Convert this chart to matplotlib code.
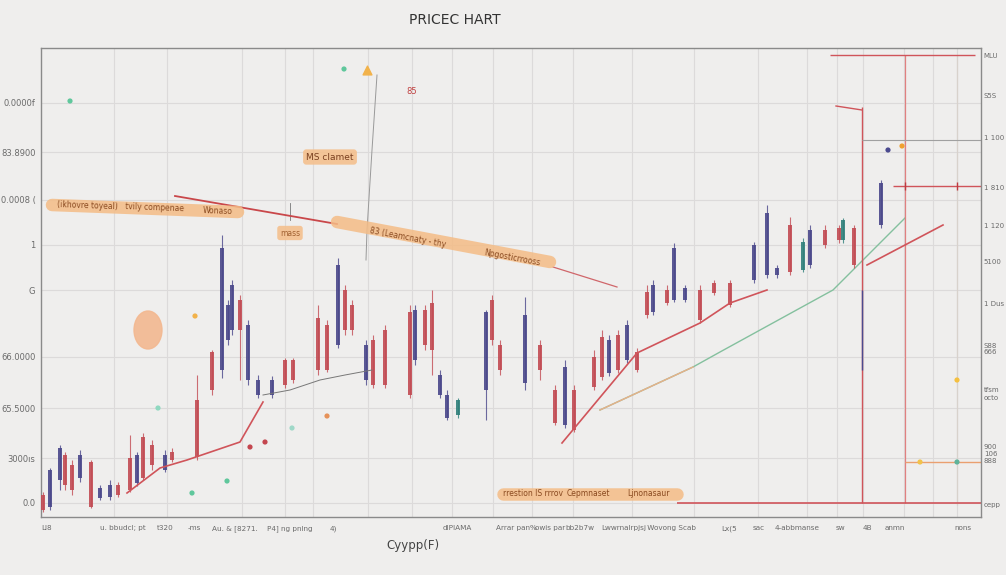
import numpy as np
import matplotlib
matplotlib.use("Agg")
import matplotlib.pyplot as plt
from matplotlib.patches import Ellipse

# --- candles: day, body low/high, wick low/high, colour code ---
day = [43, 50, 60, 65, 72, 80, 91, 100, 110, 118, 130, 137, 143, 152, 165, 172,
       197, 212, 222, 228, 232, 240, 248, 258, 272, 285, 293, 318, 327, 338, 345,
       352, 366, 373, 385, 410, 415, 425, 432, 440, 447, 458, 486, 492, 500, 525,
       540, 555, 565, 574, 594, 602, 609, 618, 627, 637, 647, 653, 667, 674, 685,
       700, 714, 730, 754, 767, 777, 790, 803, 810, 825, 839, 843, 854, 881]
body_hi = [80, 105, 127, 120, 110, 120, 113, 87, 90, 90, 117, 120, 138, 130, 120, 123,
           175, 223, 327, 270, 290, 275, 250, 195, 195, 215, 215, 257, 250, 310, 285,
           270, 230, 235, 245, 263, 265, 265, 272, 200, 180, 175, 263, 275, 230, 260,
           230, 185, 208, 185, 218, 238, 235, 240, 250, 223, 283, 290, 285, 327, 287,
           285, 292, 292, 330, 362, 307, 350, 333, 345, 345, 347, 355, 347, 392]
body_lo = [65, 68, 95, 90, 85, 97, 68, 77, 78, 80, 85, 92, 97, 110, 105, 115,
           118, 185, 205, 235, 245, 245, 195, 180, 180, 190, 195, 205, 205, 230, 245,
           245, 195, 190, 190, 180, 215, 230, 225, 180, 157, 160, 185, 235, 205, 192,
           205, 152, 150, 145, 188, 198, 202, 205, 215, 205, 260, 263, 272, 275, 275,
           255, 282, 270, 295, 300, 300, 303, 305, 310, 330, 335, 335, 310, 350]
wick_hi = [83, 107, 130, 123, 115, 125, 115, 90, 95, 93, 140, 123, 142, 135, 125, 127,
           200, 225, 340, 275, 295, 280, 255, 200, 199, 217, 217, 270, 255, 317, 290,
           275, 235, 240, 250, 270, 270, 270, 285, 205, 185, 177, 265, 280, 235, 278,
           235, 190, 215, 190, 225, 245, 240, 245, 255, 227, 290, 295, 290, 332, 290,
           290, 295, 295, 333, 370, 310, 358, 337, 350, 350, 350, 357, 350, 395]
wick_lo = [63, 65, 85, 85, 80, 93, 67, 75, 75, 78, 83, 89, 95, 105, 103, 113,
           115, 180, 197, 230, 240, 195, 190, 177, 177, 187, 192, 200, 203, 227, 240,
           240, 190, 187, 187, 177, 210, 225, 200, 177, 155, 157, 155, 230, 200, 185,
           195, 150, 147, 143, 185, 195, 199, 202, 212, 203, 257, 260, 270, 273, 273,
           252, 280, 268, 292, 297, 297, 300, 303, 307, 327, 332, 332, 307, 347]
kind = list("rnnrrnrnnrrnrrnr" "rrnnnrnnnrrrrnrr" "nrrrnrrnntnrrnrrn"
            "rrrnrnrrnrnnrrr" "nnnrtnrrtrntr")

# --- overlay lines ---
ma_red1_x = [127, 160, 187, 240, 263]
ma_red1_y = [82, 107, 115, 133, 173]
ma_dark_x = [263, 290, 320, 345, 372]
ma_dark_y = [180, 185, 195, 200, 205]
ma_red2_x = [562, 637, 700, 730, 767]
ma_red2_y = [132, 222, 252, 272, 285]
ma_red3_x = [867, 943]
ma_red3_y = [310, 350]
ma_green_x = [600, 693, 720, 833, 905]
ma_green_y = [165, 208, 223, 285, 357]
trend_x = [175, 337]
trend_y = [379, 351]
trend2_x = [553, 617]
trend2_y = [308, 288]
stem_x = [377, 372, 367, 366]
stem_y = [500, 425, 345, 315]

# annotation bands
band1_x, band1_y = [52, 238], [370, 363]
band1_txt = [(88, 369, "(ikhovre toyeal)"), (155, 367, "tvily compenae"), (218, 364, "Wonaso")]
band2_x, band2_y = [337, 550], [353, 313]
band2_txt = [(408, 337, "83 (Leamcnaty - thy"), (512, 317, "Npgosticrrooss")]
band3_x, band3_y = [503, 677], [81, 81]
band3_txt = [(533, 81, "rrestion IS rrrov"), (588, 81, "Cepmnaset"), (648, 81, "Ljnonasaur")]

dots_x = [70, 344, 158, 192, 227, 292, 195, 327, 265, 250, 888, 920, 957, 957, 902]
dots_y = [474, 506, 167, 82, 94, 147, 259, 159, 133, 128, 425, 113, 113, 195, 429]
dots_c = ["#5fc79c", "#5fc79c", "#8fd8c0", "#5fc79c", "#5fc79c", "#9fd8c8", "#f2b24a",
          "#e6925a", "#c4464e", "#c4464e", "#4b4a8f", "#f2c24a", "#5fb39a", "#f5c040", "#f0a030"]

grid_x = [114, 167, 242, 285, 313, 368, 412, 452, 493, 532, 573, 632, 694, 758,
          807, 837, 863, 904, 933, 957]

left_pos = [472, 423, 375, 330, 285, 218, 167, 117, 72]
left_lab = ["0.0000f", "83.8900", "0.0008 (", "1", "G", "66.0000", "65.5000", "3000ıs", "0.0"]
right_pos = [520, 480, 437, 388, 350, 313, 272, 227, 182, 122, 70]
right_lab = ["MLU", "S5S", "1 100", "1 810", "1 120", "5100", "1 Dus",
             "S88\n666", "tfsm\nocto", "900\n106\n888", "cepp"]
x_pos = [47, 123, 165, 194, 235, 290, 333, 457, 516, 550, 580, 623, 670, 729,
         759, 797, 840, 867, 895, 963]
x_lab = ["Ll8", "u. bbudcl; pt", "t320", "-ms", "Au. & [8271.", "P4] ng pnlng", "4)",
         "dlPIAMA", "Arrar pan%", "owis par", "bb2b7w", "Lwwrnalrpjs", "j Wovong Scab",
         "Lx(5", "sac", "4-abbmanse", "sw", "4B", "anmn", "nons"]

colors = {"r": "#c24b53", "n": "#4a478a", "t": "#2f7f7a"}
bg = "#efeeed"

fig = plt.figure(figsize=(10.06, 5.75), dpi=100, facecolor=bg)
ax = fig.add_axes([41 / 1006, 58 / 575, 940 / 1006, 469 / 575], facecolor=bg)
ax.set_xlim(41, 981)
ax.set_ylim(58, 527)

for gx in grid_x:
    ax.axvline(gx, color="#dcdada", lw=0.8, zorder=0)
for gy in left_pos:
    ax.axhline(gy, color="#dcdada", lw=0.8, zorder=0)

# candles
for d, bl, bh, wl, wh, k in zip(day, body_lo, body_hi, wick_lo, wick_hi, kind):
    c = colors[k]
    ax.vlines(d, wl, wh, color=c, lw=0.8, alpha=0.8, zorder=3)
    ax.bar(d, bh - bl, bottom=bl, width=4.5, color=c, alpha=0.9, zorder=4)

# moving averages / trend lines
ax.plot(ma_red1_x, ma_red1_y, color="#d0545a", lw=1.2, zorder=5)
ax.plot(ma_dark_x, ma_dark_y, color="#777777", lw=0.7, zorder=5)
ax.plot(ma_red2_x, ma_red2_y, color="#d0545a", lw=1.2, zorder=5)
ax.plot(ma_red3_x, ma_red3_y, color="#d0545a", lw=1.2, zorder=5)
ax.plot(ma_green_x, ma_green_y, color="#84c09e", lw=1.0, zorder=2)
ax.plot(ma_green_x[:2], ma_green_y[:2], color="#e8b088", lw=1.0, zorder=2)
ax.plot(trend_x, trend_y, color="#c9474a", lw=1.3, zorder=5)
ax.plot(trend2_x, trend2_y, color="#d0666a", lw=0.9, zorder=5)
ax.plot(stem_x, stem_y, color="#999999", lw=0.7, zorder=2)

# right side reference lines
ax.vlines(862, 72, 468, color="#d0545a", lw=1.0, zorder=2)
ax.vlines(862, 205, 285, color="#4b4a8f", lw=1.0, zorder=3)
ax.plot([836, 862], [469, 465], color="#d0545a", lw=1.0)
ax.vlines(905, 72, 520, color="#e08080", lw=0.9, zorder=2)
ax.vlines(957, 70, 520, color="#d8d2cc", lw=0.9, zorder=1)
ax.hlines(520, 830, 975, color="#d0545a", lw=1.0)
ax.hlines(435, 862, 981, color="#a0a0a0", lw=0.8)
ax.hlines(389, 893, 981, color="#d0545a", lw=1.0)
ax.hlines(72, 677, 981, color="#d0545a", lw=1.2)
ax.hlines(113, 905, 981, color="#eaa070", lw=1.0)
ax.plot([905, 957], [389, 389], "|", color="#c03a40", ms=6)

# orange annotation bands
for bx, by, txts in [(band1_x, band1_y, band1_txt), (band2_x, band2_y, band2_txt),
                     (band3_x, band3_y, band3_txt)]:
    ax.plot(bx, by, color="#f4bc86", lw=9, alpha=0.85, solid_capstyle="round", zorder=6)
    ang = np.degrees(np.arctan2(by[1] - by[0], bx[1] - bx[0]))
    for tx, ty, s in txts:
        ax.text(tx, ty, s, fontsize=5.5, color="#8a4a20", ha="center", va="center",
                rotation=ang, zorder=7)

box = dict(boxstyle="round,pad=0.35", fc="#f4c08e", ec="none", alpha=0.9)
ax.text(330, 418, "MS clamet", fontsize=6.5, color="#7a4020", ha="center",
        va="center", bbox=box, zorder=7)
ax.text(290, 342, "mass", fontsize=5.5, color="#a06030", ha="center",
        va="center", bbox=box, zorder=7)
ax.text(412, 483, "85", fontsize=6, color="#c04040", ha="center", va="center")
ax.plot([290, 290], [355, 372], color="#777777", lw=0.6)

ax.add_patch(Ellipse((148, 245), 28, 38, color="#f3b890", alpha=0.9, zorder=6))
ax.scatter(dots_x, dots_y, s=14, c=dots_c, zorder=8, edgecolors="none")
ax.scatter([367], [505], s=40, c="#f2b24a", marker="^", zorder=8)

for s in ax.spines.values():
    s.set_color("#8a8a8a")
    s.set_linewidth(1.0)

ax.set_yticks(left_pos, left_lab)
ax.set_xticks(x_pos, x_lab)
ax.tick_params(axis="y", length=0, labelsize=6, labelcolor="#6a6a6a", pad=4)
ax.tick_params(axis="x", length=0, labelsize=5.2, labelcolor="#6a6a6a", pad=6)

ax2 = ax.twinx()
ax2.set_ylim(ax.get_ylim())
ax2.set_yticks(right_pos, right_lab)
ax2.tick_params(axis="y", length=0, labelsize=5, labelcolor="#6a6a6a", pad=2)
for s in ax2.spines.values():
    s.set_visible(False)

fig.text(455 / 1006, 1 - 20 / 575, "PRICEC HART", fontsize=10, color="#333333",
         ha="center", va="center")
fig.text(413 / 1006, 1 - 545 / 575, "Cyypp(F)", fontsize=8.5, color="#444444",
         ha="center", va="center")

fig.savefig("out.png", dpi=100, facecolor=bg)
